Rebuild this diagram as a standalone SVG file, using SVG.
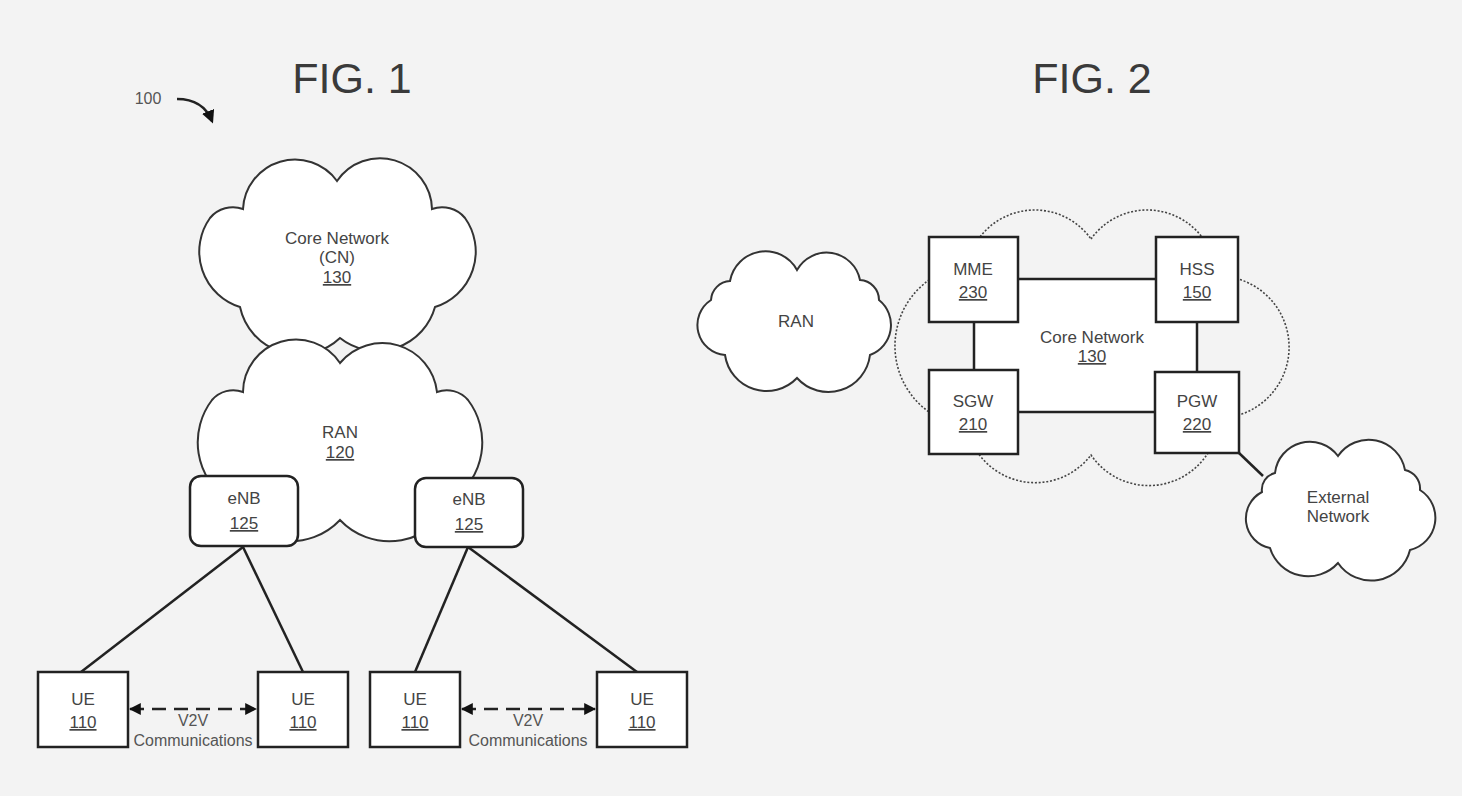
<svg xmlns="http://www.w3.org/2000/svg" width="1462" height="796" viewBox="0 0 1462 796">
<defs>
<style>
.bg{fill:#f3f3f3}
.cloud{fill:#fff;stroke:#333;stroke-width:2}
.dcloud{fill:none;stroke:#444;stroke-width:1.6;stroke-dasharray:2 1.8}
.box{fill:#fff;stroke:#222;stroke-width:2.5}
.ln{fill:none;stroke:#222;stroke-width:2.5}
.lbl{font-family:"Liberation Sans",Arial,sans-serif;font-size:17px;fill:#444;text-anchor:middle}
.num{text-decoration:underline}
.fig{font-family:"Liberation Sans",Arial,sans-serif;font-size:43px;fill:#3a3a3a;text-anchor:middle}
.sm{font-family:"Liberation Sans",Arial,sans-serif;font-size:16px;fill:#555;text-anchor:middle}
.v2v{fill:none;stroke:#222;stroke-width:2.5;stroke-dasharray:14 8}
</style>
<marker id="ah" viewBox="0 0 10 10" refX="9" refY="5" markerWidth="12" markerHeight="12" markerUnits="userSpaceOnUse" orient="auto-start-reverse">
<path d="M0,0 L10,5 L0,10 z" fill="#111"/>
</marker>
<marker id="ah2" viewBox="0 0 10 10" refX="8" refY="5" markerWidth="13" markerHeight="13" markerUnits="userSpaceOnUse" orient="auto">
<path d="M0,0 L10,5 L0,10 z" fill="#111"/>
</marker>
</defs>
<rect class="bg" x="0" y="0" width="1462" height="796"/>

<text class="fig" x="352" y="93">FIG. 1</text>
<text class="fig" x="1092" y="93">FIG. 2</text>

<g id="ref100">
<text class="sm" x="148" y="104">100</text>
<path class="ln" d="M177,99 Q203,99 212,121" marker-end="url(#ah2)"/>
</g>

<g id="connectors">
<line class="ln" x1="243" y1="547" x2="81" y2="672"/>
<line class="ln" x1="243" y1="547" x2="303" y2="672"/>
<line class="ln" x1="468" y1="547" x2="415" y2="672"/>
<line class="ln" x1="468" y1="547" x2="637" y2="672"/>
<line class="v2v" x1="130" y1="709" x2="256" y2="709" marker-start="url(#ah)" marker-end="url(#ah)"/>
<line class="v2v" x1="462" y1="709" x2="595" y2="709" marker-start="url(#ah)" marker-end="url(#ah)"/>
<line class="ln" x1="1239" y1="453" x2="1263" y2="476"/>
</g>

<g id="cn130">
<path class="cloud" d="M337,181 A52,52 0 0 1 432,209 A30,30 0 0 1 465,218 A58,58 0 0 1 435,307 A60,60 0 0 1 340,338 A60,60 0 0 1 240,307 A58,58 0 0 1 210,218 A30,30 0 0 1 243,209 A52,52 0 0 1 337,181 Z"/>
<text class="lbl" x="337" y="244">Core Network</text>
<text class="lbl" x="337" y="263">(CN)</text>
<text class="lbl num" x="337" y="283">130</text>
</g>

<g id="ran120">
<path class="cloud" d="M340,363 A55,55 0 0 1 437,392 A28,28 0 0 1 468,400 A70,70 0 0 1 452,500 A68,68 0 0 1 340,520 A68,68 0 0 1 228,500 A70,70 0 0 1 212,400 A28,28 0 0 1 243,392 A53,53 0 0 1 340,363 Z"/>
<text class="lbl" x="340" y="438">RAN</text>
<text class="lbl num" x="340" y="458">120</text>
</g>

<g id="enb1">
<rect class="box" x="190" y="476" width="108" height="70" rx="11"/>
<text class="lbl" x="244" y="504">eNB</text>
<text class="lbl num" x="244" y="529">125</text>
</g>
<g id="enb2">
<rect class="box" x="415" y="478" width="108" height="69" rx="11"/>
<text class="lbl" x="469" y="505">eNB</text>
<text class="lbl num" x="469" y="530">125</text>
</g>

<g id="ue1">
<rect class="box" x="38" y="672" width="90" height="75"/>
<text class="lbl" x="83" y="705">UE</text>
<text class="lbl num" x="83" y="728">110</text>
</g>
<g id="ue2">
<rect class="box" x="258" y="672" width="90" height="75"/>
<text class="lbl" x="303" y="705">UE</text>
<text class="lbl num" x="303" y="728">110</text>
</g>
<g id="ue3">
<rect class="box" x="370" y="672" width="90" height="75"/>
<text class="lbl" x="415" y="705">UE</text>
<text class="lbl num" x="415" y="728">110</text>
</g>
<g id="ue4">
<rect class="box" x="597" y="672" width="90" height="75"/>
<text class="lbl" x="642" y="705">UE</text>
<text class="lbl num" x="642" y="728">110</text>
</g>

<g id="v2v-labels">
<text class="sm" x="193" y="726">V2V</text>
<text class="sm" x="193" y="746">Communications</text>
<text class="sm" x="528" y="726">V2V</text>
<text class="sm" x="528" y="746">Communications</text>
</g>

<g id="ran-fig2">
<path class="cloud" d="M797,270 A34,34 0 0 1 860,280 A20,20 0 0 1 879,300 A32,32 0 0 1 870,355 A42,42 0 0 1 797,378 A42,42 0 0 1 725,355 A30,30 0 0 1 711,300 A20,20 0 0 1 730,281 A36,36 0 0 1 797,270 Z"/>
<text class="lbl" x="796" y="327">RAN</text>
</g>

<g id="cn130-fig2">
<path class="dcloud" d="M1091,239 A69,69 0 0 1 1202,237 L1238,279 A71,71 0 0 1 1239,415 L1208,453 A70,70 0 0 1 1091,455 A70,70 0 0 1 978,453 L929,412 A81,81 0 0 1 929,280 L980,237 A69,69 0 0 1 1091,239 Z"/>
<rect class="box" x="974" y="279" width="223" height="133"/>
<text class="lbl" x="1092" y="343">Core Network</text>
<text class="lbl num" x="1092" y="362">130</text>
</g>

<g id="mme230">
<rect class="box" x="929" y="237" width="89" height="85"/>
<text class="lbl" x="973" y="275">MME</text>
<text class="lbl num" x="973" y="298">230</text>
</g>
<g id="hss150">
<rect class="box" x="1156" y="237" width="82" height="85"/>
<text class="lbl" x="1197" y="275">HSS</text>
<text class="lbl num" x="1197" y="298">150</text>
</g>
<g id="sgw210">
<rect class="box" x="929" y="370" width="89" height="84"/>
<text class="lbl" x="973" y="407">SGW</text>
<text class="lbl num" x="973" y="430">210</text>
</g>
<g id="pgw220">
<rect class="box" x="1155" y="372" width="84" height="81"/>
<text class="lbl" x="1197" y="407">PGW</text>
<text class="lbl num" x="1197" y="430">220</text>
</g>

<g id="external">
<path class="cloud" d="M1338,456 A37,37 0 0 1 1405,470 A19,19 0 0 1 1420,490 A33,33 0 0 1 1410,550 A40,40 0 0 1 1338,563 A40,40 0 0 1 1270,548 A30,30 0 0 1 1262,492 A17,17 0 0 1 1275,473 A35,35 0 0 1 1338,456 Z"/>
<text class="lbl" x="1338" y="503">External</text>
<text class="lbl" x="1338" y="522">Network</text>
</g>
</svg>
